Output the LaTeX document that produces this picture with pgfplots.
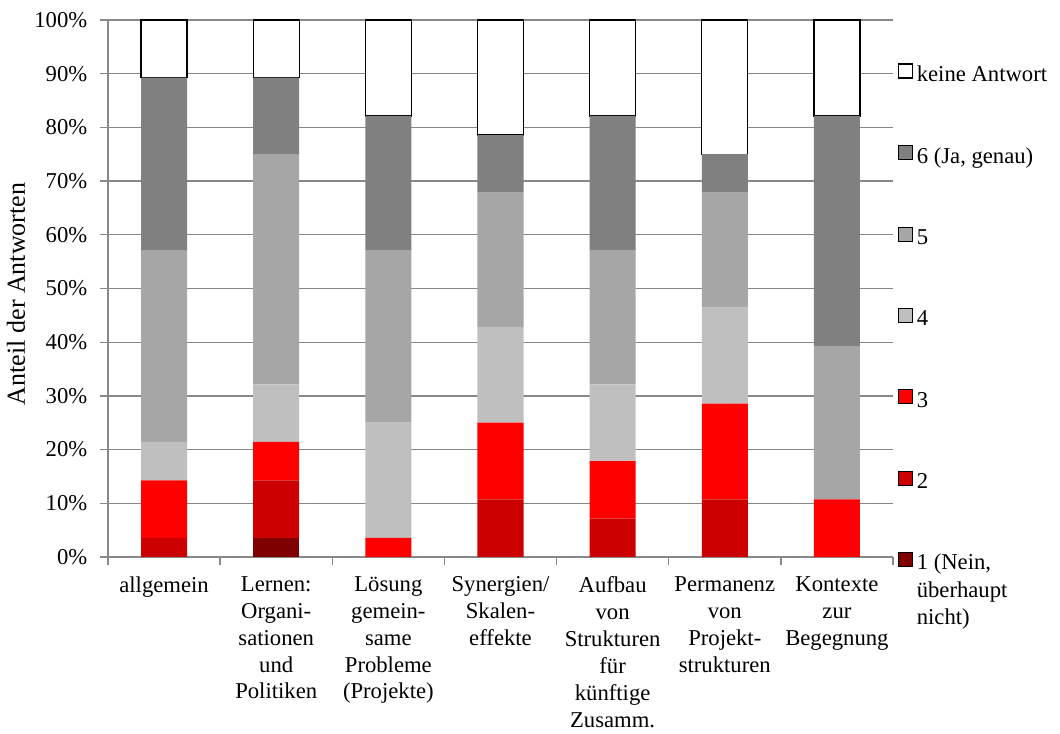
\documentclass[border=0pt]{standalone}
\usepackage{pgfplots}
\pgfplotsset{compat=1.18}
\usepackage{fontspec}
\setmainfont{Liberation Serif}

\definecolor{resp1}{HTML}{7F0000}
\definecolor{resp2}{HTML}{CC0000}
\definecolor{resp3}{HTML}{FF0000}
\definecolor{resp4}{HTML}{BFBFBF}
\definecolor{resp5}{HTML}{A6A6A6}
\definecolor{resp6}{HTML}{808080}
\definecolor{gridgray}{HTML}{888888}

\newcommand{\lblfont}{\fontsize{17}{20}\selectfont}

\begin{document}
\begin{tikzpicture}
\useasboundingbox (-81pt,-132.75pt) rectangle (714pt,417.75pt);
\begin{axis}[
  scale only axis,
  width=588.75pt, height=402.75pt,
  ybar stacked, bar width=34.5pt,
  xmin=-0.5, xmax=6.5, ymin=0, ymax=100,
  axis x line*=bottom, axis y line*=left,
  axis line style={draw=gridgray, line width=1pt, -},
  ymajorgrids, grid style={draw=gridgray, line width=1pt},
  ytick={0,10,...,100},
  yticklabel={\pgfmathprintnumber{\tick}\%},
  /pgf/number format/assume math mode=true,
  xtick={0,...,6},
  xticklabels={
    allgemein,
    {Lernen:\\Organi-\\sationen\\und\\Politiken},
    {Lösung\\gemein-\\same\\Probleme\\(Projekte)},
    {Synergien/\\Skalen-\\effekte},
    {Aufbau\\von\\Strukturen\\für\\künftige\\Zusamm.},
    {Permanenz\\von\\Projekt-\\strukturen},
    {Kontexte\\zur\\Begegnung}},
  minor xtick={-0.5,0.5,...,6.5},
  tick align=outside,
  major tick length=6pt, minor tick length=6pt,
  tick style={draw=gridgray, line width=1pt},
  major x tick style={draw=none},
  xticklabel style={font=\fontsize{17}{20.2}\selectfont, align=center, anchor=north, yshift=-5pt},
  yticklabel style={font=\lblfont, xshift=-6pt},
  ylabel={Anteil der Antworten},
  ylabel style={font=\fontsize{19.5}{22}\selectfont, xshift=-4pt},
  reverse legend,
  legend cell align=left,
  legend style={
    at={(rel axis cs:1.006,0.919)}, anchor=north west,
    draw=none, fill=none, inner sep=0pt, outer sep=0pt,
    font=\lblfont,
    row sep=43.6pt, column sep=0pt,
    nodes={inner sep=0pt, text height=12pt, text depth=4pt},
  },
  legend image code/.code={
    \draw[#1] (0pt,-1.3pt) rectangle (10.5pt,9.2pt);
  },
]
% response categories, counts of 28 answers converted to percent
\addplot[fill=resp1, draw=none] coordinates
  {(0,0) (1,3.5714) (2,0) (3,0) (4,0) (5,0) (6,0)};
\addlegendentry{\,\raisebox{0pt}[\height][0pt]{\begin{tabular}[t]{@{}l@{}}1 (Nein,\\[0.5pt]überhaupt\\[0.5pt]nicht)\end{tabular}}}
\addplot[fill=resp2, draw=none] coordinates
  {(0,3.5714) (1,10.7143) (2,0) (3,10.7143) (4,7.1429) (5,10.7143) (6,0)};
\addlegendentry{\,2}
\addplot[fill=resp3, draw=none] coordinates
  {(0,10.7143) (1,7.1429) (2,3.5714) (3,14.2857) (4,10.7143) (5,17.8571) (6,10.7143)};
\addlegendentry{\,3}
\addplot[fill=resp4, draw=none] coordinates
  {(0,7.1429) (1,10.7143) (2,21.4286) (3,17.8571) (4,14.2857) (5,17.8571) (6,0)};
\addlegendentry{\,4}
\addplot[fill=resp5, draw=none] coordinates
  {(0,35.7143) (1,42.8571) (2,32.1429) (3,25.0000) (4,25.0000) (5,21.4286) (6,28.5714)};
\addlegendentry{\,5}
\addplot[fill=resp6, draw=none] coordinates
  {(0,32.1429) (1,14.2857) (2,25.0000) (3,10.7143) (4,25.0000) (5,7.1429) (6,42.8571)};
\addlegendentry{\,6 (Ja, genau)}
\addplot[fill=white, draw=black, line width=1pt] coordinates
  {(0,10.7143) (1,10.7143) (2,17.8571) (3,21.4286) (4,17.8571) (5,25.0000) (6,17.8571)};
\addlegendentry{\,keine Antwort}
\end{axis}
\end{tikzpicture}
\end{document}
